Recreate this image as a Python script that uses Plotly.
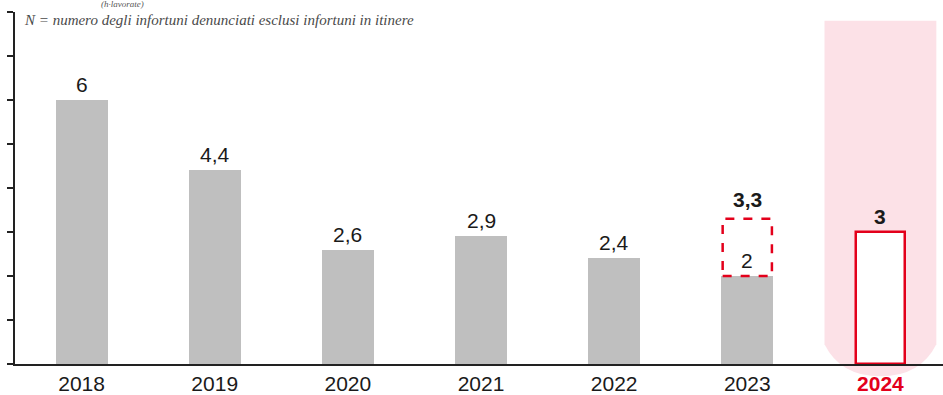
import plotly.graph_objects as go

# ---- data ----
years = ["2018", "2019", "2020", "2021", "2022", "2023", "2024"]
values = [6.0, 4.4, 2.6, 2.9, 2.4, 2.0, 3.0]
labels = ["6", "4,4", "2,6", "2,9", "2,4", "2", "3"]
prev_2023_value = 3.3
prev_2023_label = "3,3"
highlight_year = "2024"
note_text = "N = numero degli infortuni denunciati esclusi infortuni in itinere"
top_text = "(h·lavorate)"

GRAY = "#BFBFBF"
RED = "#E3001B"
PINK = "#FCE1E7"
TXT = "#1a1a1a"

W, H = 943, 395
ML, MR, MT, MB = 15, 0, 12, 31
XR = [-0.5, 6.47]
YR = [0, 8]
BW = 0.39

idx = list(range(len(years)))
hi = years.index(highlight_year)

def px(x):
    return (x - XR[0]) / (XR[1] - XR[0])

def py(y):
    return (y - YR[0]) / (YR[1] - YR[0])

fig = go.Figure()

# gray bars (all except highlight)
gx = [i for i in idx if i != hi]
gy = [values[i] for i in gx]
fig.add_trace(go.Bar(x=gx, y=gy, width=BW, marker=dict(color=GRAY, line=dict(width=0)),
                     hoverinfo="skip", showlegend=False))
# highlight bar
fig.add_trace(go.Bar(x=[hi], y=[values[hi]], width=BW - 0.02,
                     marker=dict(color="white", line=dict(color=RED, width=2.5)),
                     hoverinfo="skip", showlegend=False))

shapes = []
# pink highlight column (paper coords computed from data positions)
cx = hi
hw = 0.42
L, R = px(cx - hw), px(cx + hw)
C = px(cx)
top, bend, bottom = py(7.8), py(0.45), py(-0.28)
path = (f"M {L},{top} L {R},{top} L {R},{bend} "
        f"Q {px(cx + 0.3)},{bottom} {C},{bottom} Q {px(cx - 0.3)},{bottom} {L},{bend} Z")
shapes.append(dict(type="path", path=path, xref="paper", yref="paper",
                   fillcolor=PINK, line=dict(width=0), layer="below"))

# dashed previous-value box for 2023
i23 = years.index("2023")
shapes.append(dict(type="rect", xref="x", yref="y",
                   x0=i23 - BW / 2 + 0.01, x1=i23 + BW / 2 - 0.01,
                   y0=values[i23], y1=prev_2023_value,
                   line=dict(color=RED, width=2.5, dash="dash"),
                   fillcolor="rgba(0,0,0,0)", layer="above"))

annotations = []
for i in idx:
    bold = (i == hi)
    annotations.append(dict(x=i, y=values[i], xref="x", yref="y",
                            text=f"<b>{labels[i]}</b>" if bold else labels[i],
                            showarrow=False, yanchor="bottom", yshift=2,
                            font=dict(family="Liberation Sans, Arial", size=21, color=TXT)))
annotations.append(dict(x=i23, y=prev_2023_value, xref="x", yref="y",
                        text=f"<b>{prev_2023_label}</b>", showarrow=False,
                        yanchor="bottom", yshift=6,
                        font=dict(family="Liberation Sans, Arial", size=21, color=TXT)))
# notes
annotations.append(dict(x=(22 - ML) / (W - ML - MR), y=1 - (20 - MT) / (H - MT - MB),
                        xref="paper", yref="paper", xanchor="left", yanchor="middle",
                        text=f"<i>{note_text}</i>", showarrow=False,
                        font=dict(family="Liberation Serif, DejaVu Serif, serif", size=15, color="#4a4a4a")))
annotations.append(dict(x=(122 - ML) / (W - ML - MR), y=1 + (MT - 4) / (H - MT - MB),
                        xref="paper", yref="paper", xanchor="center", yanchor="middle",
                        text=f"<i>{top_text}</i>", showarrow=False,
                        font=dict(family="Liberation Serif, DejaVu Serif, serif", size=9, color="#555555")))

ticktext = [f"<b><span style='color:{RED}'>{y}</span></b>" if i == hi else y
            for i, y in enumerate(years)]

fig.update_layout(
    width=W, height=H,
    margin=dict(l=ML, r=MR, t=MT, b=MB, pad=0),
    paper_bgcolor="white", plot_bgcolor="rgba(0,0,0,0)",
    shapes=shapes, annotations=annotations,
    bargap=0, showlegend=False,
    xaxis=dict(range=XR, tickmode="array", tickvals=idx, ticktext=ticktext,
               showgrid=False, zeroline=False, showline=True, linecolor="#222222",
               linewidth=2, ticks="", tickfont=dict(family="Liberation Sans, Arial", size=21, color=TXT),
               fixedrange=True),
    yaxis=dict(range=YR, tickmode="array", tickvals=list(range(0, 9)),
               showticklabels=False, showgrid=False, zeroline=False,
               showline=True, linecolor="#222222", linewidth=2,
               ticks="outside", ticklen=6, tickwidth=1.5, tickcolor="#222222",
               fixedrange=True),
)

fig.write_html("out.html")
